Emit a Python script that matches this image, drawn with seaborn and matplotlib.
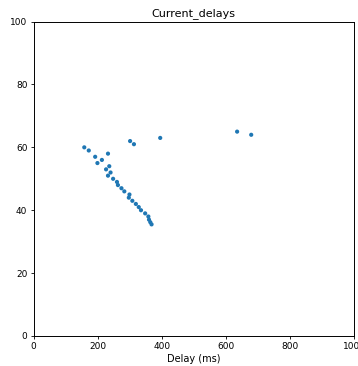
import matplotlib
matplotlib.use("Agg")
import matplotlib.pyplot as plt
import seaborn as sns
import pandas as pd

delay_ms = [158, 172, 192, 213, 199, 232, 236, 226, 240, 232, 248, 260, 263, 274,
            283, 299, 297, 308, 319, 328, 335, 348, 358, 360, 364, 368,
            301, 313, 395, 635, 679]
value = [60, 59, 57, 56, 55, 58, 54, 53, 52, 51, 50, 49, 48, 47,
         46, 45, 44, 43, 42, 41, 40, 39, 38, 37, 36.2, 35.5,
         62, 61, 63, 65, 64]

df = pd.DataFrame({"Delay (ms)": delay_ms, "value": value})

plt.rcParams["font.family"] = ["DejaVu Sans"]
fig = plt.figure(figsize=(3.58, 3.66), dpi=100)
ax = fig.add_axes([0.094, 0.082, 0.895, 0.859])
sns.scatterplot(data=df, x="Delay (ms)", y="value", ax=ax, s=9,
                color="#1f77b4", edgecolor="none", linewidth=0)
ax.set_xlim(0, 1000)
ax.set_ylim(0, 100)
ax.set_xticks([0, 200, 400, 600, 800, 1000])
ax.set_yticks([0, 20, 40, 60, 80, 100])
ax.set_ylabel("")
ax.set_xlabel("Delay (ms)", fontsize=7, labelpad=2)
ax.set_title("Current_delays", fontsize=8, pad=4)
ax.tick_params(labelsize=6.5, length=2.5, width=0.6, pad=2)
for s in ax.spines.values():
    s.set_linewidth(0.7)
fig.savefig("out.png", dpi=100)
